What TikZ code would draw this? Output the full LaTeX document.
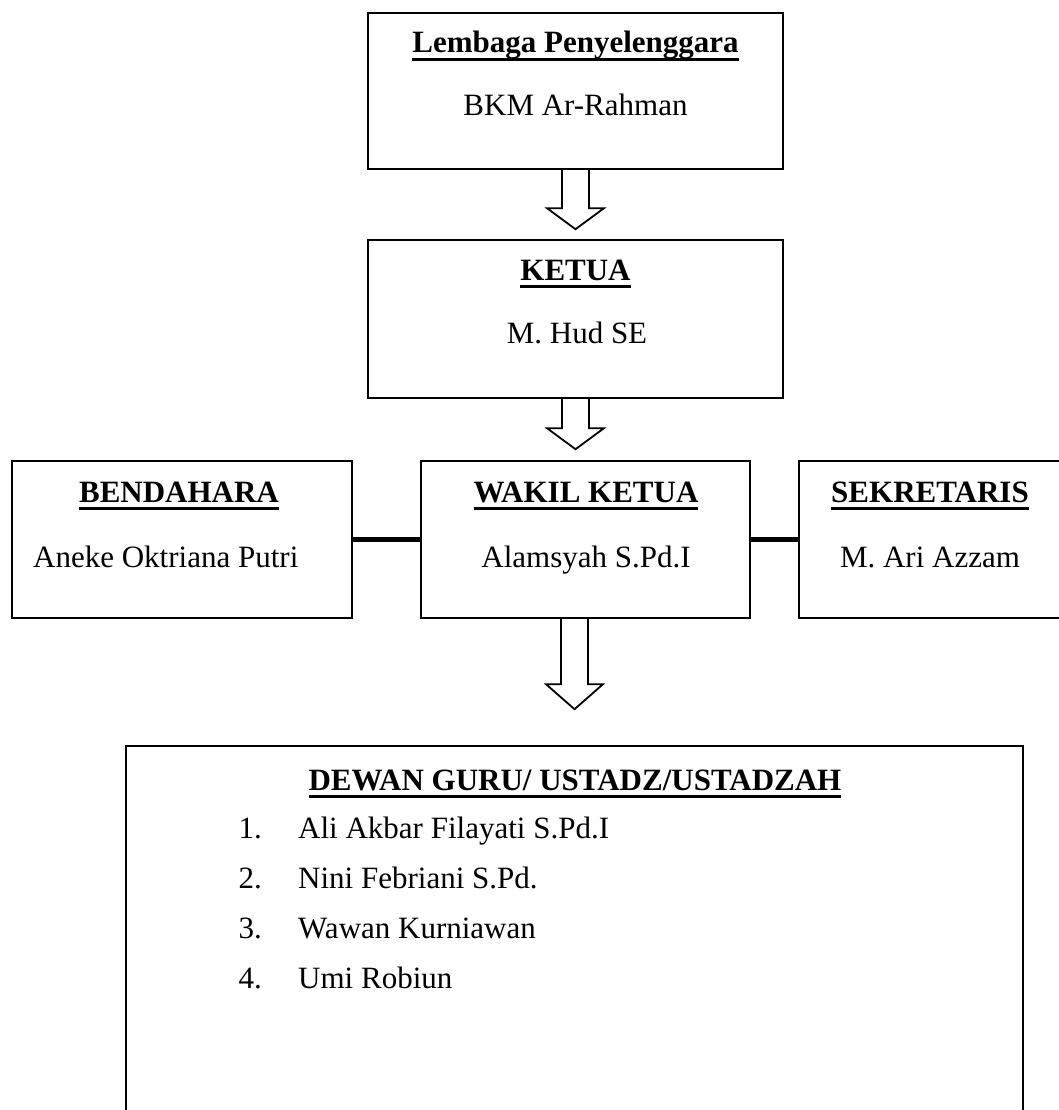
\documentclass[tikz,border=0pt]{standalone}
\usepackage{fontspec}
\setmainfont{Liberation Serif}
\usepackage{tikz}
\usetikzlibrary{calc,positioning}

% bold heading with a thick underline
\newcommand\hdul[1]{\setbox0=\hbox{\bfseries #1}\rlap{\vrule width\wd0 height -5pt depth 8pt}\box0}
% hollow block arrow hanging below a box
\newcommand\downblk[3]{\draw[blk] ($(#1)+(-13.5,0)$) -- ++(0,#2) -- ++(-15,0) -- ++(28.5,#3) -- ++(28.5,-#3) -- ++(-15,0) -- ++(0,-#2);}

\begin{document}
\begin{tikzpicture}[x=1pt, y=-1pt,
    font=\fontsize{31}{37}\selectfont,
    box/.style={draw, line width=2.4pt, inner sep=0pt},
    lbl/.style={inner sep=0pt, anchor=base},
    blk/.style={draw, line width=1.8pt, fill=white, line join=miter},
    link/.style={line width=5pt}]
    \useasboundingbox (0,0) rectangle (1059,1110);
    \clip (0,0) rectangle (1059,1110);
    % boxes
    \node[box, minimum width=415pt, minimum height=156pt] (lembaga) at (575.5,91) {};
    \node[box, minimum width=415pt, minimum height=158pt] (ketua) at (575.5,319) {};
    \node[box, minimum width=340pt, minimum height=157pt] (bendahara) at (182,539.5) {};
    \node[box, minimum width=329pt, minimum height=157pt] (wakil) at (585.5,539.5) {};
    \node[box, minimum width=263pt, minimum height=157pt] (sekretaris) at (930.5,539.5) {};
    \node[box, minimum width=897pt, minimum height=394pt] (dewan) at (574.5,943) {};
    % texts
    \node[lbl] (lembagaH) at (575.5,53) {\hdul{Lembaga Penyelenggara}};
    \node[lbl] (lembagaN) at (575.5,116) {BKM Ar-Rahman};
    \node[lbl] (ketuaH) at (575.5,280) {\hdul{KETUA}};
    \node[lbl] (ketuaN) at (577,343) {M. Hud SE};
    \node[lbl] (bendaharaH) at (179,502) {\hdul{BENDAHARA}};
    \node[lbl, anchor=base west] (bendaharaN) at (33,567) {Aneke Oktriana Putri};
    \node[lbl] (wakilH) at (586,502) {\hdul{WAKIL KETUA}};
    \node[lbl] (wakilN) at (586,567) {Alamsyah S.Pd.I};
    \node[lbl] (sekretarisH) at (930,502) {\hdul{SEKRETARIS}};
    \node[lbl] (sekretarisN) at (930,567) {M. Ari Azzam};
    \node[lbl] (dewanH) at (575,790) {\hdul{DEWAN GURU/ USTADZ/USTADZAH}};
    \foreach \nm [count=\i] in {Ali Akbar Filayati S.Pd.I, Nini Febriani S.Pd., Wawan Kurniawan, Umi Robiun} {
      \node[lbl, anchor=base east] (num\i) at (262,788+50*\i) {\i.};
      \node[lbl, anchor=base west] (guru\i) at (298,788+50*\i) {\nm};
    }
    % connectors
    \downblk{lembaga.south}{38}{21}
    \downblk{ketua.south}{29}{21}
    \downblk{wakil.south -| dewan.north}{65}{25}
    \draw[link] (bendahara.east) -- (wakil.west);
    \draw[link] (wakil.east) -- (sekretaris.west);
\end{tikzpicture}
\end{document}
